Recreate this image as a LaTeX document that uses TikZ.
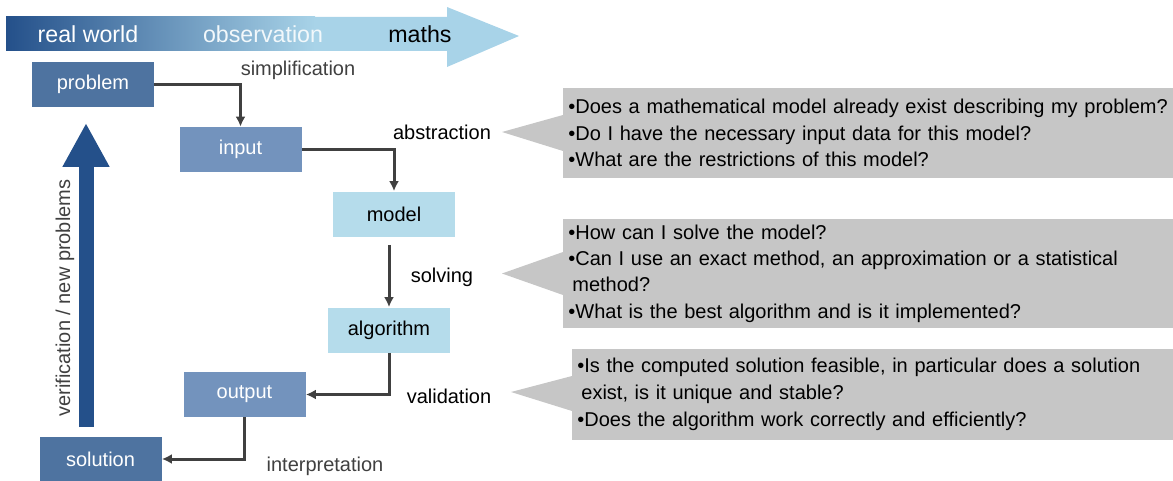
\documentclass[tikz,border=0pt]{standalone}
\usepackage{fontspec}
\setmainfont{Liberation Sans}
\usetikzlibrary{arrows.meta}
\definecolor{darkblue}{HTML}{24508A}
\definecolor{midblue}{HTML}{4E73A0}
\definecolor{paleblue}{HTML}{7393BD}
\definecolor{lightblue}{HTML}{B5DCEB}
\definecolor{arrowblue}{HTML}{A8D3E8}
\definecolor{linegray}{HTML}{404040}
\definecolor{notegray}{HTML}{C6C6C6}

\begin{document}
\begin{tikzpicture}[x=0.5pt,y=-0.5pt,>={Latex[length=5pt,width=5pt]},
  font=\fontsize{10}{12}\selectfont,
  stage/.style={minimum width=61pt,minimum height=22.5pt,inner sep=0pt},
  flow/.style={->,linegray,line width=1.5pt},
  note/.style={fill=notegray,inner xsep=2.5pt,inner ysep=0pt,align=left,anchor=west,
    font=\fontsize{10}{13.2}\selectfont},
  banner/.style={font=\fontsize{11.6}{14}\selectfont}]
\useasboundingbox (0,0) rectangle (1173,481);
\fill[arrowblue] (6,17) -- (447,17) -- (447,7) -- (519,36) -- (447,67) -- (447,51) -- (6,51) -- cycle;
\shade[left color=darkblue,right color=arrowblue] (6,17) rectangle (315,51);
\node[banner,text=white] (realworld) at (88,34) {real world};
\node[banner,text=white!85!arrowblue] (observation) at (263,34) {observation};
\node[banner] (maths) at (420,34) {maths};

\node[stage,fill=midblue,text=white] (problem) at (93,84.5) {problem};
\node[stage,fill=paleblue,text=white] (input) at (240.5,149.5) {input};
\node[stage,fill=lightblue] (model) at (394,214) {model};
\node[stage,fill=lightblue] (algorithm) at (389,330) {algorithm};
\node[stage,fill=paleblue,text=white] (output) at (244.5,394.5) {output};
\node[stage,fill=midblue,text=white] (solution) at (100.5,459) {solution};

\draw[flow] (problem.east) -| (input.north);
\draw[flow] (input.east) -| (model.north);
\draw[flow] (algorithm.north |- model.south) ++(0,8) -- (algorithm.north);
\draw[flow] (algorithm.south) |- (output.east);
\draw[flow] (output.south) |- (solution.east);

\coordinate (backfrom) at (86,427);
\coordinate (backto) at (86,123);
\draw[darkblue,line width=7.5pt,-{Triangle[length=22pt,width=22pt]}] (backfrom) -- (backto);
\node[rotate=90,text=linegray] (feedback) at (65,298) {verification / new problems};

\node[text=linegray] (simplification) at (298,70) {simplification};
\node (abstraction) at (442,132) {abstraction};
\node (solving) at (442,277) {solving};
\node (validation) at (449,396) {validation};
\node[text=linegray] (interpretation) at (325,466) {interpretation};

\node[note,minimum width=305pt,minimum height=45pt,text width=300pt] (askmodel) at (563,133)
  {•Does a mathematical model already exist describing my problem?\\
   •Do I have the necessary input data for this model?\\
   •What are the restrictions of this model?};
\fill[notegray] (askmodel.west) +(0,-18) -- +(-61,-1) -- +(0,18) -- cycle;

\node[note,minimum width=305pt,minimum height=54.5pt,text width=300pt] (asksolve) at (563,273.5)
  {•How can I solve the model?\\
   •Can I use an exact method, an approximation or a statistical\\
   \hspace*{2pt}method?\\
   •What is the best algorithm and is it implemented?};
\fill[notegray] (asksolve.west) +(0,-21.5) -- +(-61,0) -- +(0,21.5) -- cycle;

\node[note,minimum width=300.5pt,minimum height=45.5pt,text width=295.5pt,
  font=\fontsize{10}{13.6}\selectfont] (askcheck) at (572,394.5)
  {•Is the computed solution feasible, in particular does a solution\\
   \hspace*{2pt}exist, is it unique and stable?\\
   •Does the algorithm work correctly and efficiently?};
\fill[notegray] (askcheck.west) +(0,-18.5) -- +(-61,-2.5) -- +(0,16.5) -- cycle;
\end{tikzpicture}
\end{document}
